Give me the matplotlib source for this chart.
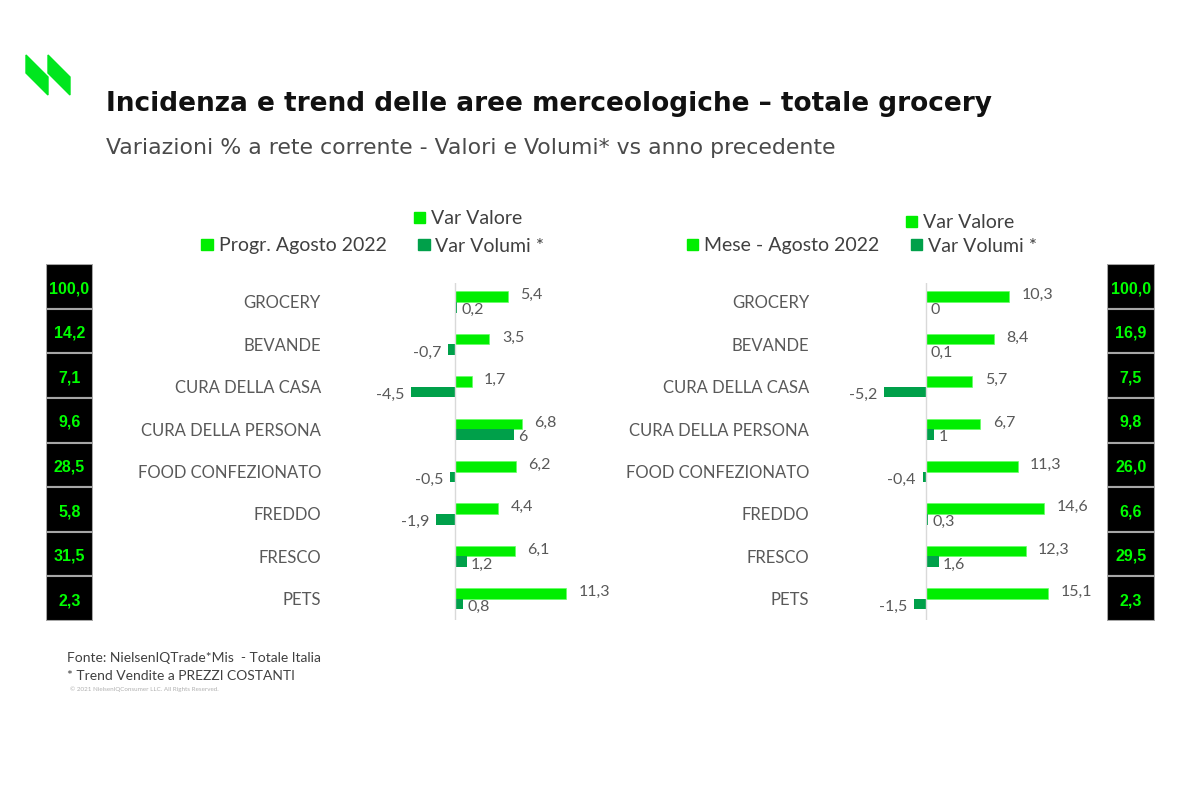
import numpy as np
import matplotlib.pyplot as plt
from matplotlib.patches import Patch, Polygon

categories = ["GROCERY", "BEVANDE", "CURA DELLA CASA", "CURA DELLA PERSONA",
              "FOOD CONFEZIONATO", "FREDDO", "FRESCO", "PETS"]
prog_valore = [5.4, 3.5, 1.7, 6.8, 6.2, 4.4, 6.1, 11.3]
prog_volumi = [0.2, -0.7, -4.5, 6.0, -0.5, -1.9, 1.2, 0.8]
mese_valore = [10.3, 8.4, 5.7, 6.7, 11.3, 14.6, 12.3, 15.1]
mese_volumi = [0.0, 0.1, -5.2, 1.0, -0.4, 0.3, 1.6, -1.5]
prog_peso = [100.0, 14.2, 7.1, 9.6, 28.5, 5.8, 31.5, 2.3]
mese_peso = [100.0, 16.9, 7.5, 9.8, 26.0, 6.6, 29.5, 2.3]

GREEN = "#00ee00"
DARK = "#00a04a"
GRAY = "#595959"
FONT = "Lato"

W, H = 1200, 800


def rect(x0, y0, x1, y1):
    # pixel box -> figure fraction
    return [x0 / W, 1 - y1 / H, (x1 - x0) / W, (y1 - y0) / H]


def fmt(v):
    if float(v).is_integer():
        return str(int(v))
    return f"{v:.1f}".replace(".", ",")


fig = plt.figure(figsize=(12, 8), dpi=100)

# logo
for x0 in (26, 48):
    pts = [(x0, 55), (x0, 73), (x0 + 22, 95), (x0 + 22, 77)]
    fig.patches.append(Polygon([(px / W, 1 - py / H) for px, py in pts], closed=True,
                               transform=fig.transFigure, color="#00e61e"))

fig.text(106 / W, 1 - 104 / H, "Incidenza e trend delle aree merceologiche – totale grocery",
         fontsize=19, fontweight="bold", family="DejaVu Sans", color="#111111", va="center")
fig.text(106 / W, 1 - 148 / H, "Variazioni % a rete corrente - Valori e Volumi* vs anno precedente",
         fontsize=15.8, family="DejaVu Sans", color="#4a4a4a", va="center")

y = np.arange(len(categories))
bh = 0.25


def panel(box, zero_px, scale, x0, x1, valore, volumi, pad):
    ax = fig.add_axes(box)
    ax.barh(y - bh / 2, valore, height=bh, color=GREEN, edgecolor="#66ff66", linewidth=0.5)
    ax.barh(y + bh / 2, volumi, height=bh, color=DARK)
    ax.set_xlim(-(zero_px - x0) / scale, (x1 - zero_px) / scale)
    ax.set_ylim(7.5, (283 - 302) / 42.4)
    ax.axvline(0, color="#d9d9d9", lw=1)
    for s in ax.spines.values():
        s.set_visible(False)
    ax.set_xticks([])
    ax.set_yticks(y)
    ax.set_yticklabels(categories, fontsize=12, family=FONT, color=GRAY)
    ax.tick_params(axis="y", length=0, pad=pad)
    for i, (va, vo) in enumerate(zip(valore, volumi)):
        ax.annotate(fmt(va), (va, i - bh / 2), xytext=(9, 1), textcoords="offset points",
                    ha="left", va="center", fontsize=11.5, family=FONT, color=GRAY)
        if vo >= 0:
            ax.annotate(fmt(vo), (vo, i + bh / 2), xytext=(3, -2), textcoords="offset points",
                        ha="left", va="center", fontsize=11.5, family=FONT, color=GRAY)
        else:
            ax.annotate(fmt(vo), (vo, i + bh / 2), xytext=(-5, -2), textcoords="offset points",
                        ha="right", va="center", fontsize=11.5, family=FONT, color=GRAY)
    return ax


panel(rect(380, 283, 590, 620), 455, 9.8, 380, 590, prog_valore, prog_volumi, 42.5)
panel(rect(860, 283, 1080, 620), 926, 8.1, 860, 1080, mese_valore, mese_volumi, 36.5)


def boxes(box, values):
    ax = fig.add_axes(box)
    ax.barh(y, [1] * len(values), height=1, left=0, color="black",
            edgecolor="#a6a6a6", linewidth=1.5)
    ax.set_xlim(0, 1)
    ax.set_ylim(len(values) - 0.5, -0.5)
    ax.axis("off")
    for i, v in enumerate(values):
        ax.text(0.5, i + 0.05, f"{v:.1f}".replace(".", ","), ha="center", va="center",
                fontsize=11.5, fontweight="bold", family="Liberation Sans", color="#00ff00")


boxes(rect(46, 264, 93, 621), prog_peso)
boxes(rect(1107, 264, 1155, 621), mese_peso)


def legends(cx1, y1, cx2, y2, series):
    sq = dict(handlelength=0.6, handleheight=0.45, handletextpad=0.3, frameon=False,
              prop={"family": FONT, "size": 14}, labelcolor="#404040", borderpad=0)
    fig.legend([Patch(color=GREEN)], ["Var Valore"], loc="center",
               bbox_to_anchor=(cx1 / W, 1 - y1 / H), **sq)
    fig.legend([Patch(color=GREEN), Patch(color=DARK)], [series, "Var Volumi *"],
               loc="center", ncol=2, columnspacing=1.6,
               bbox_to_anchor=(cx2 / W, 1 - y2 / H), **sq)


legends(468, 219, 373, 246, "Progr. Agosto 2022")
legends(960, 223, 862, 246, "Mese - Agosto 2022")

fig.text(67 / W, 1 - 658 / H, "Fonte: NielsenIQTrade*Mis  - Totale Italia",
         fontsize=10, family=FONT, color="#404040", va="center")
fig.text(67 / W, 1 - 676 / H, "* Trend Vendite a PREZZI COSTANTI",
         fontsize=10, family=FONT, color="#404040", va="center")
fig.text(70 / W, 1 - 689 / H, "© 2021 NielsenIQConsumer LLC. All Rights Reserved.",
         fontsize=4.5, family=FONT, color="#b0b0b0", va="center")

fig.savefig("out.png", dpi=100)
